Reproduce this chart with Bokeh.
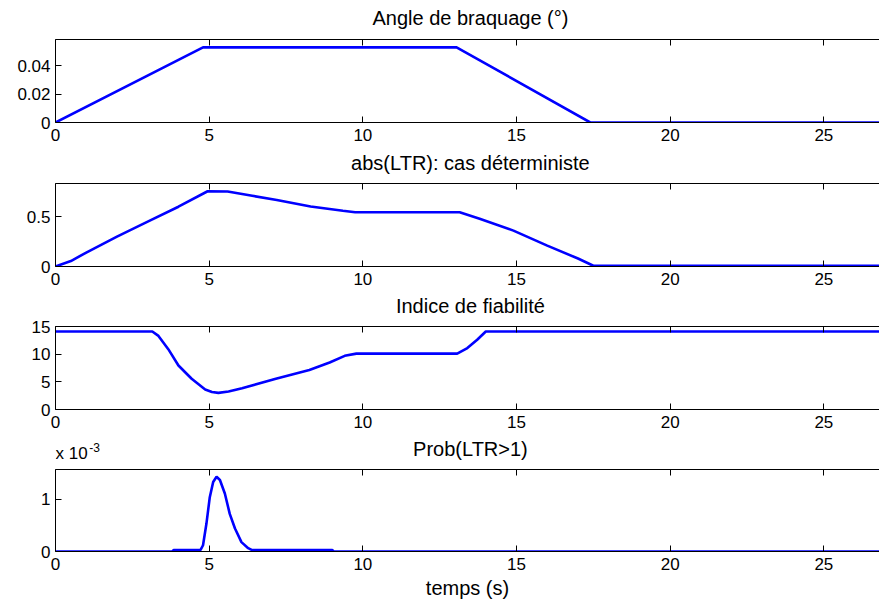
from bokeh.plotting import figure
from bokeh.layouts import column
from bokeh.models import LinearAxis, FixedTicker, Range1d, Label, CustomJSTickFormatter
from bokeh.embed import file_html
from bokeh.resources import INLINE

# ---------------- data ----------------
x_ticks = [0, 5, 10, 15, 20, 25]

t_angle = [0, 4.8, 13.05, 17.4, 27]
angle = [0, 0.0528, 0.0528, 0, 0]

t_ltr = [0, 0.5, 1.0, 2.0, 3.0, 4.0, 4.95, 5.6, 6.4, 7.2, 8.3, 9.35, 9.75,
         13.15, 13.8, 14.9, 16.0, 17.0, 17.5, 27]
ltr = [0, 0.055, 0.14, 0.3, 0.45, 0.6, 0.755, 0.752, 0.71, 0.668, 0.602, 0.56, 0.545,
       0.545, 0.48, 0.36, 0.21, 0.08, 0.008, 0.008]

t_beta = [0, 3.15, 3.35, 3.67, 4.0, 4.43, 4.87, 5.09, 5.3, 5.63, 6.07, 7.17, 8.26,
          8.92, 9.41, 9.79, 13.07, 13.4, 13.72, 14.0, 27]
beta = [14.1, 14.1, 13.3, 10.9, 7.95, 5.56, 3.6, 3.15, 3.0, 3.25, 3.85, 5.55, 7.15,
        8.5, 9.7, 10.1, 10.1, 11.1, 12.6, 14.1, 14.1]

t_prob = [0, 3.8, 3.85, 4.72, 4.8, 4.91, 5.02, 5.13, 5.24, 5.35, 5.51, 5.67, 5.84,
          6.05, 6.27, 6.38, 9.0, 9.05, 27]
prob = [0, 0, 0.03, 0.03, 0.12, 0.53, 1.04, 1.33, 1.43, 1.37, 1.11, 0.72, 0.44,
        0.18, 0.064, 0.03, 0.03, 0, 0]  # x 1e-3

titles = ["Angle de braquage (°)", "abs(LTR): cas déterministe",
          "Indice de fiabilité", "Prob(LTR>1)"]
y_tops = [0.0583, 0.833, 15.0, 1.57]
y_ticks = [[0, 0.02, 0.04], [0, 0.5], [0, 5, 10, 15], [0, 1]]
y_tick_labels = [["0", "0.02", "0.04"], ["0", "0.5"], ["0", "5", "10", "15"], ["0", "1"]]
x_label = "temps (s)"
scale_text = "x 10"
scale_exp = "-3"
x_center = 13.5  # middle of the 0..27 time axis

series = [(t_angle, angle), (t_ltr, ltr), (t_beta, beta), (t_prob, prob)]

FONT = "Liberation Sans"
TICK_SIZE = "17px"
TITLE_SIZE = "20px"
X_END = 26.81
W = 879

header_h = [39, 35, 24, 34]
title_y = [22, 21, 11, 21]      # px above the header bottom
plot_top = [0, 0, 10, 0]
plot_h = [109, 109, 119, 135]
plot_bottom = [26, 26, 26, 53]


def header(i):
    h = figure(width=W, height=header_h[i], x_range=Range1d(0, X_END),
               y_range=Range1d(0, header_h[i]), output_backend="svg",
               toolbar_location=None, title=None, min_border=0,
               min_border_left=55, min_border_right=0,
               x_axis_type=None, y_axis_type=None)
    h.outline_line_color = None
    h.grid.visible = False
    h.background_fill_color = "white"
    h.border_fill_color = "white"
    h.add_layout(Label(x=x_center, y=title_y[i], text=titles[i], text_font=FONT,
                       text_font_size=TITLE_SIZE, text_color="black",
                       text_align="center", text_baseline="middle"))
    if i == 3:
        h.add_layout(Label(x=0, y=16, text=scale_text, text_font=FONT,
                           text_font_size=TICK_SIZE, text_color="black",
                           text_align="left", text_baseline="middle"))
        h.add_layout(Label(x=1.1, y=22, text=scale_exp, text_font=FONT,
                           text_font_size="12px", text_color="black",
                           text_align="left", text_baseline="middle"))
    return h


figs = []
for i in range(4):
    last = (i == 3)
    figs.append(header(i))
    p = figure(width=W, height=plot_h[i], x_range=Range1d(0, X_END),
               y_range=Range1d(0, y_tops[i]), output_backend="svg",
               toolbar_location=None, title=None, min_border_left=55, min_border_right=0,
               min_border_top=plot_top[i], min_border_bottom=plot_bottom[i],
               x_axis_type=None, y_axis_type=None)
    p.outline_line_color = None
    p.background_fill_color = "white"
    p.border_fill_color = "white"

    xb = LinearAxis(ticker=FixedTicker(ticks=x_ticks))
    xt = LinearAxis(ticker=FixedTicker(ticks=x_ticks),
                    formatter=CustomJSTickFormatter(code="return ''"))
    for ax in (xb, xt):
        ax.major_tick_in = 6
        ax.major_tick_out = 0
        ax.minor_tick_line_color = None
        ax.axis_line_color = "black"
        ax.major_tick_line_color = "black"
        ax.major_label_text_font = FONT
        ax.major_label_text_font_size = TICK_SIZE
        ax.major_label_text_color = "black"
    xb.major_label_standoff = 6
    xt.major_label_standoff = 0
    if last:
        xb.axis_label = x_label
        xb.axis_label_text_font = FONT
        xb.axis_label_text_font_size = TITLE_SIZE
        xb.axis_label_text_font_style = "normal"
        xb.axis_label_text_color = "black"
        xb.axis_label_standoff = 4
    p.add_layout(xb, "below")
    p.add_layout(xt, "above")

    ya = LinearAxis(ticker=FixedTicker(ticks=y_ticks[i]))
    ya.major_label_overrides = {v: s for v, s in zip(y_ticks[i], y_tick_labels[i])}
    ya.major_tick_in = 6
    ya.major_tick_out = 0
    ya.minor_tick_line_color = None
    ya.axis_line_color = "black"
    ya.major_tick_line_color = "black"
    ya.major_label_text_font = FONT
    ya.major_label_text_font_size = TICK_SIZE
    ya.major_label_text_color = "black"
    ya.major_label_standoff = 5
    p.add_layout(ya, "left")

    t, v = series[i]
    p.line(t, v, line_color="#0000FF", line_width=2.6)
    figs.append(p)

layout = column(*figs, spacing=0)
open("out.html", "w").write(file_html(layout, INLINE))
